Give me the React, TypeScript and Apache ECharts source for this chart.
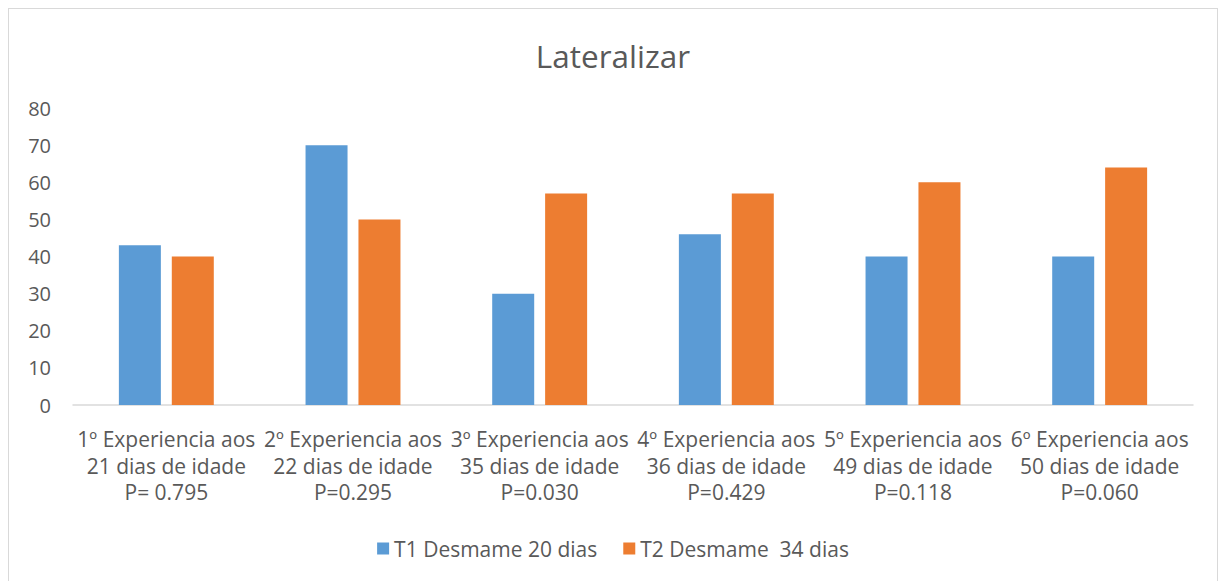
import React, { useEffect, useRef } from "react";
import * as echarts from "echarts";

const categories = [
  "1º Experiencia aos\n21 dias de idade\nP= 0.795",
  "2º Experiencia aos\n22 dias de idade\nP=0.295",
  "3º Experiencia aos\n35 dias de idade\nP=0.030",
  "4º Experiencia aos\n36 dias de idade\nP=0.429",
  "5º Experiencia aos\n49 dias de idade\nP=0.118",
  "6º Experiencia aos\n50 dias de idade\nP=0.060",
];
const seriesNames = ["T1 Desmame 20 dias", "T2 Desmame  34 dias"];
const t1Values = [43, 70, 30, 46, 40, 40];
const t2Values = [40, 50, 57, 57, 60, 64];

const FONT = "'Open Sans', Lato, sans-serif";
const TEXT = "#595959";

export default function App() {
  const ref = useRef<HTMLDivElement>(null);
  useEffect(() => {
    if (!ref.current) return;
    const chart = echarts.init(ref.current, undefined, { renderer: "svg" });
    chart.setOption({
      animation: false,
      textStyle: { fontFamily: FONT },
      title: {
        text: "Lateralizar",
        left: "center",
        top: 25,
        textStyle: { fontFamily: FONT, fontSize: 31.5, fontWeight: "normal", color: TEXT },
      },
      legend: {
        bottom: 20,
        left: "center",
        itemWidth: 12,
        itemHeight: 12,
        itemGap: 26,
        icon: "rect",
        textStyle: { fontFamily: FONT, fontSize: 21, color: TEXT },
        data: seriesNames,
      },
      grid: { left: 64, right: 24, top: 99, bottom: 179, containLabel: false },
      xAxis: {
        type: "category",
        data: categories,
        axisLine: { show: true, lineStyle: { color: "#d9d9d9", width: 1.5 } },
        axisTick: { show: false },
        axisLabel: {
          interval: 0,
          fontFamily: FONT,
          fontSize: 21,
          color: TEXT,
          lineHeight: 26.5,
          margin: 21,
          align: "center",
        },
      },
      yAxis: {
        type: "value",
        min: 0,
        max: 80,
        interval: 10,
        axisLine: { show: false },
        axisTick: { show: false },
        splitLine: { show: false },
        axisLabel: { fontFamily: FONT, fontSize: 20, color: TEXT, margin: 22 },
      },
      series: [
        {
          name: seriesNames[0],
          type: "bar",
          data: t1Values,
          barWidth: 42,
          barGap: "26%",
          itemStyle: { color: "#5B9BD5" },
        },
        {
          name: seriesNames[1],
          type: "bar",
          data: t2Values,
          barWidth: 42,
          barGap: "26%",
          itemStyle: { color: "#ED7D31" },
        },
      ],
    });
    return () => chart.dispose();
  }, []);
  return (
    <div
      ref={ref}
      style={{
        width: 1208,
        height: 575,
        border: "1px solid #d9d9d9",
        background: "#fff",
      }}
    />
  );
}
